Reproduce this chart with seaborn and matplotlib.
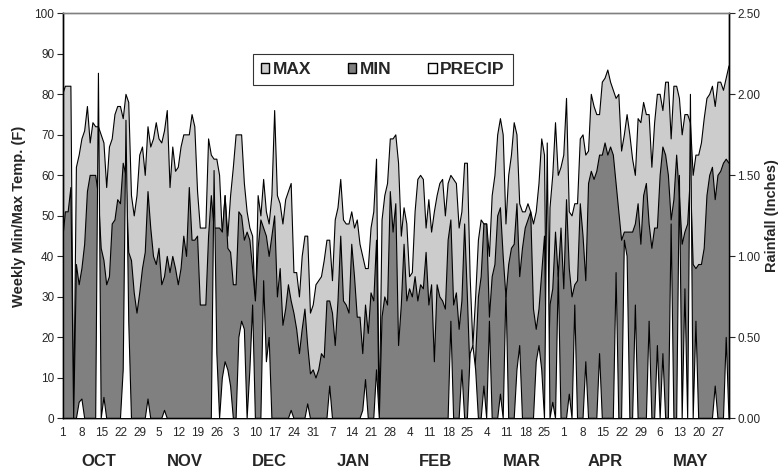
import numpy as np
import pandas as pd
import matplotlib
matplotlib.use("Agg")
import matplotlib.pyplot as plt
import seaborn as sns
from matplotlib.patches import Patch

sns.set_theme(style="white")
plt.rcParams['font.family'] = ['Liberation Sans', 'DejaVu Sans']

# ---- data (daily, Oct 1 .. May 31) ----
max_temp = [
    80, 82, 82, 82, 0, 62, 65, 69, 71, 77,
    68, 73, 72, 72, 70, 68, 57, 67, 69, 75,
    77, 77, 74, 80, 78, 55, 50, 55, 65, 67,
    60, 72, 67, 69, 73, 69, 68, 71, 76, 57,
    67, 61, 62, 67, 70, 70, 70, 75, 72, 56,
    47, 47, 47, 69, 65, 64, 64, 60, 45, 55,
    45, 55, 62, 70, 70, 70, 58, 51, 47, 45,
    26, 55, 50, 59, 51, 48, 55, 76, 55, 53,
    48, 54, 56, 58, 36, 36, 30, 40, 45, 45,
    26, 28, 33, 34, 35, 39, 44, 44, 34, 49,
    52, 59, 49, 48, 48, 51, 47, 49, 43, 40,
    37, 37, 47, 51, 64, 0, 49, 55, 58, 69,
    69, 70, 63, 45, 52, 48, 35, 36, 51, 59,
    60, 59, 47, 54, 46, 51, 55, 58, 59, 50,
    58, 60, 59, 58, 47, 51, 63, 63, 35, 18,
    30, 44, 49, 48, 48, 40, 55, 60, 70, 74,
    70, 48, 60, 65, 73, 70, 53, 51, 51, 53,
    51, 48, 51, 58, 69, 65, 0, 52, 60, 73,
    60, 62, 65, 79, 51, 50, 53, 53, 69, 70,
    65, 66, 80, 77, 75, 75, 83, 84, 86, 83,
    81, 79, 80, 66, 70, 75, 70, 64, 60, 74,
    73, 78, 75, 75, 62, 73, 80, 80, 76, 83,
    83, 69, 82, 82, 79, 70, 75, 75, 73, 60,
    65, 65, 68, 74, 79, 80, 82, 77, 83, 83,
    81, 84, 87,
]
min_temp = [
    44, 51, 51, 57, 0, 38, 33, 37, 43, 56,
    60, 60, 60, 55, 42, 39, 33, 35, 48, 49,
    54, 53, 63, 60, 41, 39, 31, 26, 31, 37,
    41, 56, 47, 40, 38, 42, 33, 35, 40, 36,
    40, 37, 33, 37, 45, 40, 57, 44, 44, 45,
    28, 28, 28, 45, 55, 47, 47, 47, 46, 55,
    42, 41, 33, 33, 51, 50, 44, 46, 44, 37,
    29, 42, 49, 47, 45, 40, 45, 50, 30, 37,
    23, 27, 33, 29, 26, 22, 16, 22, 27, 18,
    11, 12, 10, 12, 16, 15, 29, 29, 26, 18,
    29, 45, 29, 28, 26, 43, 35, 25, 25, 16,
    28, 21, 31, 29, 44, 0, 25, 30, 28, 56,
    46, 53, 18, 28, 43, 29, 32, 30, 35, 29,
    33, 32, 41, 28, 33, 14, 33, 30, 29, 27,
    44, 49, 28, 31, 22, 29, 48, 30, 10, 5,
    15, 30, 35, 48, 48, 25, 35, 38, 50, 52,
    40, 30, 38, 42, 43, 53, 35, 42, 47, 49,
    51, 27, 22, 27, 36, 45, 0, 28, 32, 46,
    35, 47, 32, 54, 37, 30, 33, 34, 53, 45,
    34, 58, 61, 59, 61, 65, 65, 68, 65, 67,
    65, 58, 51, 44, 46, 46, 46, 46, 48, 53,
    43, 55, 58, 48, 42, 47, 47, 60, 67, 65,
    60, 49, 54, 65, 55, 43, 46, 48, 60, 38,
    37, 38, 38, 42, 55, 60, 62, 54, 60, 61,
    63, 64, 63,
]
precip_days = [6, 7, 13, 15, 22, 23, 24, 31, 37,
               55, 56, 58, 59, 60, 61, 64, 65, 66, 68, 69, 73, 74, 75,
               83, 89, 97, 109, 110, 114,
               141, 145, 148, 149, 150, 153, 155, 159, 161,
               165, 166, 172, 173, 174, 176, 178, 180, 184, 186, 190, 195,
               201, 204, 205, 208, 213, 216, 218, 221, 224, 226, 228, 230, 237, 241]
precip_vals = [0.10, 0.12, 2.13, 0.13, 0.30, 1.84, 0.60, 0.12, 0.05,
               1.53, 0.40, 0.25, 0.35, 0.30, 0.20, 0.50, 0.60, 0.55, 0.30, 0.70, 0.85, 0.35, 0.50,
               0.05, 0.09, 0.20, 0.05, 0.24, 0.30,
               0.60, 0.30, 0.40, 0.45, 0.30, 0.20, 0.60, 0.15, 0.80,
               0.30, 0.45, 0.35, 0.45, 0.30, 1.70, 0.10, 0.90, 0.15, 0.70, 0.35, 0.40,
               0.90, 1.10, 1.00, 0.70, 0.60, 0.45, 0.40, 1.20, 1.50, 0.80, 2.00, 0.60, 0.20, 0.50]
precip = [0.0] * len(max_temp)
for d, v in zip(precip_days, precip_vals):
    precip[d] = v

day_labels = ["1", "8", "15", "22", "29", "5", "12", "19", "26", "3", "10", "17",
              "24", "31", "7", "14", "21", "28", "4", "11", "18", "25", "4", "11",
              "18", "25", "1", "8", "15", "22", "29", "6", "13", "20", "27"]
months = ["OCT", "NOV", "DEC", "JAN", "FEB", "MAR", "APR", "MAY"]
month_pos = [13.2, 44.4, 75.2, 105.4, 135.5, 166.7, 197.2, 228.0]

df = pd.DataFrame({"day": np.arange(len(max_temp)), "MAX": max_temp,
                   "MIN": min_temp, "PRECIP": precip})

LIGHT = "#cccccc"
DARK = "#808080"
LW = 0.8

fig = plt.figure(figsize=(7.83, 4.75), dpi=100)
ax = fig.add_axes([0.080, 0.119, 0.851, 0.853])
ax2 = ax.twinx()

x = df["day"].values
ax.fill_between(x, 0, df["MAX"], facecolor=LIGHT, edgecolor="none", zorder=1)
sns.lineplot(data=df, x="day", y="MAX", ax=ax, color="black", linewidth=LW, zorder=2)
ax.fill_between(x, 0, df["MIN"], facecolor=DARK, edgecolor="none", zorder=3)
sns.lineplot(data=df, x="day", y="MIN", ax=ax, color="black", linewidth=LW, zorder=4)
ax2.fill_between(x, 0, df["PRECIP"], facecolor="white", edgecolor="none", zorder=5)
sns.lineplot(data=df, x="day", y="PRECIP", ax=ax2, color="black", linewidth=LW, zorder=6)

ax.set_xlim(0, len(x) - 1)
ax.set_ylim(0, 100)
ax2.set_ylim(0, 2.5)
ax.set_yticks(np.arange(0, 101, 10))
ax2.set_yticks(np.arange(0, 2.51, 0.5))
ax2.set_yticklabels([f"{v:.2f}" for v in np.arange(0, 2.51, 0.5)])
ax.set_xticks(np.arange(0, 7 * len(day_labels), 7))
ax.set_xticklabels(day_labels)
ax.tick_params(axis="x", length=0, labelsize=8.5, pad=6)
ax.tick_params(axis="y", length=4, width=0.8, labelsize=8.5, pad=2, left=True, direction="out")
ax2.tick_params(axis="y", length=4, width=0.8, labelsize=8.5, pad=2, right=True, direction="out")

ax.set_xlabel("")
ax.set_ylabel("Weekly Min/Max Temp. (F)", fontsize=10.5, fontweight="bold", labelpad=6)
ax2.set_ylabel("Rainfall (Inches)", fontsize=10.5, fontweight="bold", labelpad=3)

for a in (ax, ax2):
    for sp in ["left", "bottom", "right"]:
        a.spines[sp].set_color("black")
        a.spines[sp].set_linewidth(1.0)
    a.spines["top"].set_color("#808080")
    a.spines["top"].set_linewidth(1.0)

for m, p in zip(months, month_pos):
    ax.text(p, -0.105, m, transform=ax.get_xaxis_transform(), ha="center", va="center",
            fontsize=12, fontweight="bold")

handles = [Patch(facecolor=LIGHT, edgecolor="black", label="MAX"),
           Patch(facecolor=DARK, edgecolor="black", label="MIN"),
           Patch(facecolor="white", edgecolor="black", label="PRECIP")]
leg = ax2.legend(handles=handles, loc="upper left", bbox_to_anchor=(0.2855, 0.8995),
                 borderaxespad=0.0,
                 ncol=3, frameon=True, fancybox=False, edgecolor="black",
                 prop={"weight": "bold", "size": 12.5}, handlelength=0.5, handleheight=0.5,
                 handletextpad=0.2, columnspacing=2.1, borderpad=0.45)
leg.get_frame().set_linewidth(0.8)
if ax.get_legend():
    ax.get_legend().remove()

fig.savefig("out.png", dpi=100)
